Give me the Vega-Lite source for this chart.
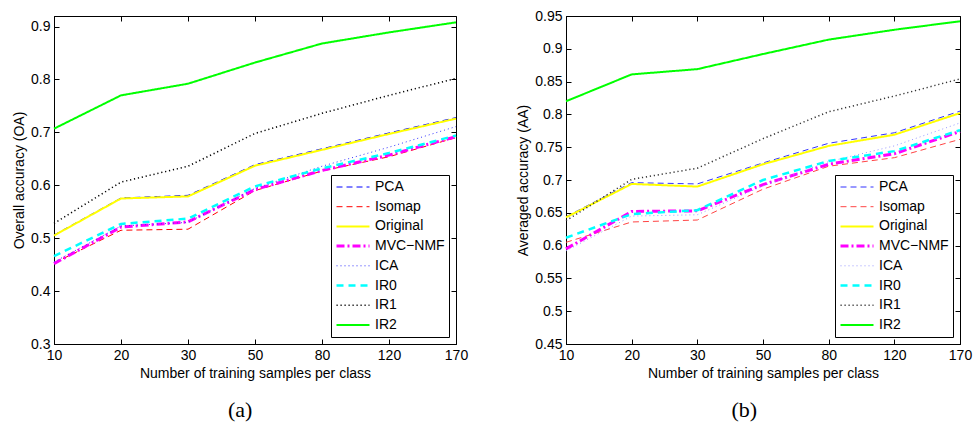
{
  "$schema": "https://vega.github.io/schema/vega-lite/v6.json",
  "padding": {"left": 12, "top": 8, "right": 5, "bottom": 0},
  "spacing": 47,
  "background": "white",
  "datasets": {
    "oa": [
      {"m": "PCA", "n": 10, "v": 0.506}, {"m": "PCA", "n": 20, "v": 0.576}, {"m": "PCA", "n": 30, "v": 0.581}, {"m": "PCA", "n": 50, "v": 0.639}, {"m": "PCA", "n": 80, "v": 0.669}, {"m": "PCA", "n": 120, "v": 0.699}, {"m": "PCA", "n": 170, "v": 0.728},
      {"m": "Isomap", "n": 10, "v": 0.453}, {"m": "Isomap", "n": 20, "v": 0.515}, {"m": "Isomap", "n": 30, "v": 0.517}, {"m": "Isomap", "n": 50, "v": 0.59}, {"m": "Isomap", "n": 80, "v": 0.627}, {"m": "Isomap", "n": 120, "v": 0.654}, {"m": "Isomap", "n": 170, "v": 0.69},
      {"m": "Original", "n": 10, "v": 0.505}, {"m": "Original", "n": 20, "v": 0.575}, {"m": "Original", "n": 30, "v": 0.579}, {"m": "Original", "n": 50, "v": 0.637}, {"m": "Original", "n": 80, "v": 0.667}, {"m": "Original", "n": 120, "v": 0.697}, {"m": "Original", "n": 170, "v": 0.726},
      {"m": "MVC−NMF", "n": 10, "v": 0.452}, {"m": "MVC−NMF", "n": 20, "v": 0.521}, {"m": "MVC−NMF", "n": 30, "v": 0.531}, {"m": "MVC−NMF", "n": 50, "v": 0.592}, {"m": "MVC−NMF", "n": 80, "v": 0.628}, {"m": "MVC−NMF", "n": 120, "v": 0.657}, {"m": "MVC−NMF", "n": 170, "v": 0.692},
      {"m": "ICA", "n": 10, "v": 0.455}, {"m": "ICA", "n": 20, "v": 0.523}, {"m": "ICA", "n": 30, "v": 0.53}, {"m": "ICA", "n": 50, "v": 0.594}, {"m": "ICA", "n": 80, "v": 0.636}, {"m": "ICA", "n": 120, "v": 0.672}, {"m": "ICA", "n": 170, "v": 0.711},
      {"m": "IR0", "n": 10, "v": 0.466}, {"m": "IR0", "n": 20, "v": 0.527}, {"m": "IR0", "n": 30, "v": 0.537}, {"m": "IR0", "n": 50, "v": 0.598}, {"m": "IR0", "n": 80, "v": 0.632}, {"m": "IR0", "n": 120, "v": 0.661}, {"m": "IR0", "n": 170, "v": 0.694},
      {"m": "IR1", "n": 10, "v": 0.528}, {"m": "IR1", "n": 20, "v": 0.606}, {"m": "IR1", "n": 30, "v": 0.636}, {"m": "IR1", "n": 50, "v": 0.698}, {"m": "IR1", "n": 80, "v": 0.736}, {"m": "IR1", "n": 120, "v": 0.77}, {"m": "IR1", "n": 170, "v": 0.802},
      {"m": "IR2", "n": 10, "v": 0.707}, {"m": "IR2", "n": 20, "v": 0.77}, {"m": "IR2", "n": 30, "v": 0.792}, {"m": "IR2", "n": 50, "v": 0.832}, {"m": "IR2", "n": 80, "v": 0.868}, {"m": "IR2", "n": 120, "v": 0.889}, {"m": "IR2", "n": 170, "v": 0.908}
    ],
    "aa": [
      {"m": "PCA", "n": 10, "v": 0.644}, {"m": "PCA", "n": 20, "v": 0.696}, {"m": "PCA", "n": 30, "v": 0.694}, {"m": "PCA", "n": 50, "v": 0.726}, {"m": "PCA", "n": 80, "v": 0.756}, {"m": "PCA", "n": 120, "v": 0.772}, {"m": "PCA", "n": 170, "v": 0.805},
      {"m": "Isomap", "n": 10, "v": 0.605}, {"m": "Isomap", "n": 20, "v": 0.636}, {"m": "Isomap", "n": 30, "v": 0.639}, {"m": "Isomap", "n": 50, "v": 0.686}, {"m": "Isomap", "n": 80, "v": 0.721}, {"m": "Isomap", "n": 120, "v": 0.734}, {"m": "Isomap", "n": 170, "v": 0.762},
      {"m": "Original", "n": 10, "v": 0.643}, {"m": "Original", "n": 20, "v": 0.694}, {"m": "Original", "n": 30, "v": 0.69}, {"m": "Original", "n": 50, "v": 0.724}, {"m": "Original", "n": 80, "v": 0.752}, {"m": "Original", "n": 120, "v": 0.769}, {"m": "Original", "n": 170, "v": 0.802},
      {"m": "MVC−NMF", "n": 10, "v": 0.595}, {"m": "MVC−NMF", "n": 20, "v": 0.652}, {"m": "MVC−NMF", "n": 30, "v": 0.653}, {"m": "MVC−NMF", "n": 50, "v": 0.693}, {"m": "MVC−NMF", "n": 80, "v": 0.724}, {"m": "MVC−NMF", "n": 120, "v": 0.74}, {"m": "MVC−NMF", "n": 170, "v": 0.774},
      {"m": "ICA", "n": 10, "v": 0.592}, {"m": "ICA", "n": 20, "v": 0.645}, {"m": "ICA", "n": 30, "v": 0.647}, {"m": "ICA", "n": 50, "v": 0.691}, {"m": "ICA", "n": 80, "v": 0.728}, {"m": "ICA", "n": 120, "v": 0.752}, {"m": "ICA", "n": 170, "v": 0.787},
      {"m": "IR0", "n": 10, "v": 0.612}, {"m": "IR0", "n": 20, "v": 0.648}, {"m": "IR0", "n": 30, "v": 0.654}, {"m": "IR0", "n": 50, "v": 0.7}, {"m": "IR0", "n": 80, "v": 0.729}, {"m": "IR0", "n": 120, "v": 0.744}, {"m": "IR0", "n": 170, "v": 0.776},
      {"m": "IR1", "n": 10, "v": 0.638}, {"m": "IR1", "n": 20, "v": 0.701}, {"m": "IR1", "n": 30, "v": 0.718}, {"m": "IR1", "n": 50, "v": 0.763}, {"m": "IR1", "n": 80, "v": 0.804}, {"m": "IR1", "n": 120, "v": 0.828}, {"m": "IR1", "n": 170, "v": 0.854},
      {"m": "IR2", "n": 10, "v": 0.82}, {"m": "IR2", "n": 20, "v": 0.861}, {"m": "IR2", "n": 30, "v": 0.869}, {"m": "IR2", "n": 50, "v": 0.892}, {"m": "IR2", "n": 80, "v": 0.914}, {"m": "IR2", "n": 120, "v": 0.929}, {"m": "IR2", "n": 170, "v": 0.942}
    ]
  },
  "hconcat": [
    {
      "width": 402,
      "height": 328,
      "data": {"name": "oa"},
      "title": {"text": "(a)", "orient": "bottom", "frame": "bounds", "anchor": "middle", "font": "Liberation Serif", "fontSize": 22, "fontWeight": "normal", "color": "black", "offset": 20},
      "layer": [
        {
          "mark": {"type": "line"},
          "encoding": {
            "x": {"field": "n", "type": "ordinal", "scale": {"type": "point", "padding": 0}, "axis": {"title": "Number of training samples per class", "labelAngle": 0}},
            "y": {"field": "v", "type": "quantitative", "scale": {"domain": [0.3, 0.92], "nice": false, "zero": false}, "axis": {"title": "Overall accuracy (OA)", "values": [0.3, 0.4, 0.5, 0.6, 0.7, 0.8, 0.9], "format": "~g"}},
            "color": {"field": "m", "type": "nominal", "scale": {"domain": ["PCA", "Isomap", "Original", "MVC−NMF", "ICA", "IR0", "IR1", "IR2"], "range": ["#0000ff", "#ff0000", "#ffff00", "#ff00ff", "#3333ff", "#00ffff", "#000000", "#00ff00"]}, "legend": {"title": null}},
            "strokeDash": {"field": "m", "type": "nominal", "scale": {"domain": ["PCA", "Isomap", "Original", "MVC−NMF", "ICA", "IR0", "IR1", "IR2"], "range": [[6, 4], [6, 4], [1, 0], [8, 3, 2, 3], [1, 3], [7, 5], [1.2, 2.8], [1, 0]]}, "legend": {"title": null}},
            "strokeWidth": {"field": "m", "type": "ordinal", "scale": {"type": "ordinal", "domain": ["PCA", "Isomap", "Original", "MVC−NMF", "ICA", "IR0", "IR1", "IR2"], "range": [1, 1, 2, 3, 1, 2.5, 1.5, 2]}, "legend": {"title": null}}
          }
        },
        {
          "mark": {"type": "line", "opacity": 0},
          "encoding": {
            "x": {"field": "n", "type": "ordinal", "axis": {"orient": "top", "labels": false, "title": null, "domain": false, "minExtent": 0, "maxExtent": 0}},
            "y": {"field": "v", "type": "quantitative", "axis": {"orient": "right", "labels": false, "title": null, "domain": false, "minExtent": 0, "maxExtent": 0, "values": [0.3, 0.4, 0.5, 0.6, 0.7, 0.8, 0.9]}}
          }
        }
      ],
      "resolve": {"axis": {"x": "independent", "y": "independent"}}
    },
    {
      "width": 394,
      "height": 328,
      "data": {"name": "aa"},
      "title": {"text": "(b)", "orient": "bottom", "frame": "bounds", "anchor": "middle", "font": "Liberation Serif", "fontSize": 22, "fontWeight": "normal", "color": "black", "offset": 20},
      "layer": [
        {
          "mark": {"type": "line"},
          "encoding": {
            "x": {"field": "n", "type": "ordinal", "scale": {"type": "point", "padding": 0}, "axis": {"title": "Number of training samples per class", "labelAngle": 0}},
            "y": {"field": "v", "type": "quantitative", "scale": {"domain": [0.45, 0.95], "nice": false, "zero": false}, "axis": {"title": "Averaged accuracy (AA)", "values": [0.45, 0.5, 0.55, 0.6, 0.65, 0.7, 0.75, 0.8, 0.85, 0.9, 0.95], "format": "~g"}},
            "color": {"field": "m", "type": "nominal", "scale": {"domain": ["PCA", "Isomap", "Original", "MVC−NMF", "ICA", "IR0", "IR1", "IR2"], "range": ["#3333ff", "#ff4444", "#ffff00", "#ff00ff", "#9999ff", "#00ffff", "#333333", "#00ff00"]}, "legend": {"title": null}},
            "strokeDash": {"field": "m", "type": "nominal", "scale": {"domain": ["PCA", "Isomap", "Original", "MVC−NMF", "ICA", "IR0", "IR1", "IR2"], "range": [[6, 4], [6, 4], [1, 0], [8, 3, 2, 3], [1, 3], [7, 5], [1.2, 2.8], [1, 0]]}, "legend": {"title": null}},
            "strokeWidth": {"field": "m", "type": "ordinal", "scale": {"type": "ordinal", "domain": ["PCA", "Isomap", "Original", "MVC−NMF", "ICA", "IR0", "IR1", "IR2"], "range": [1, 1, 2, 3, 1, 2.5, 1.5, 2]}, "legend": {"title": null}}
          }
        },
        {
          "mark": {"type": "line", "opacity": 0},
          "encoding": {
            "x": {"field": "n", "type": "ordinal", "axis": {"orient": "top", "labels": false, "title": null, "domain": false, "minExtent": 0, "maxExtent": 0}},
            "y": {"field": "v", "type": "quantitative", "axis": {"orient": "right", "labels": false, "title": null, "domain": false, "minExtent": 0, "maxExtent": 0, "values": [0.45, 0.5, 0.55, 0.6, 0.65, 0.7, 0.75, 0.8, 0.85, 0.9, 0.95]}}
          }
        }
      ],
      "resolve": {"axis": {"x": "independent", "y": "independent"}}
    }
  ],
  "resolve": {"scale": {"color": "independent", "strokeDash": "independent", "strokeWidth": "independent"}, "legend": {"color": "independent", "strokeDash": "independent", "strokeWidth": "independent"}},
  "config": {
    "view": {"stroke": "black", "strokeWidth": 1},
    "axis": {"labelFont": "Liberation Sans", "labelFontSize": 14, "labelColor": "black", "titleFont": "Liberation Sans", "titleFontSize": 14, "titleFontWeight": "normal", "titleColor": "black", "domainColor": "black", "tickColor": "black", "tickSize": -5, "labelPadding": 9, "titlePadding": 4, "grid": false, "labelFlush": false, "labelOverlap": false},
    "legend": {"orient": "bottom-right", "offset": 7, "strokeColor": "black", "fillColor": "white", "padding": 4, "symbolType": "stroke", "symbolSize": 1089, "clipHeight": 16, "rowPadding": 3.7, "labelFont": "Liberation Sans", "labelFontSize": 14, "labelColor": "black", "labelOffset": 4, "labelLimit": 200}
  }
}
